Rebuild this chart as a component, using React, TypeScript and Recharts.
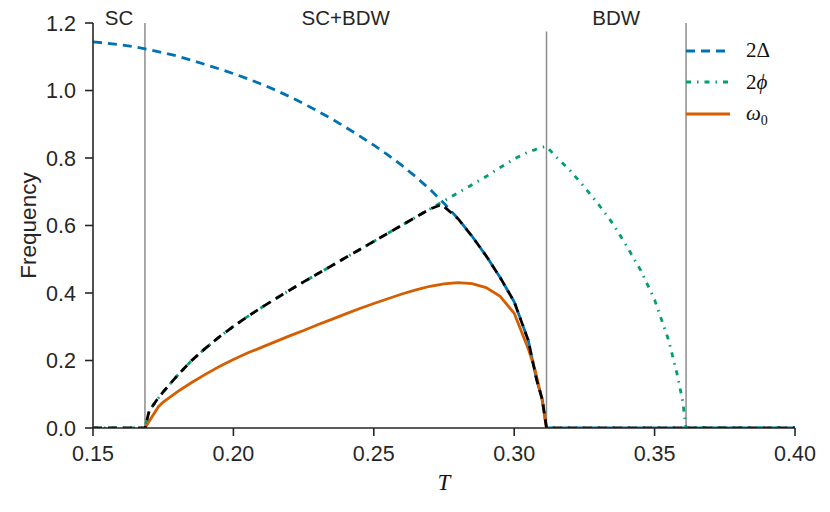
import React from "react"
import {
  LineChart,
  Line,
  XAxis,
  YAxis,
  ReferenceLine,
  ReferenceArea,
  Legend,
} from "recharts"

// temperatures at which the phase boundaries sit
const tScOnset = 0.1685
const tScEnd = 0.3115
const tBdwEnd = 0.3612

const xTicks = [0.15, 0.2, 0.25, 0.3, 0.35, 0.4]
const yTicks = [0, 0.2, 0.4, 0.6, 0.8, 1.0, 1.2]

// 2Δ (superconducting gap)
const deltaT = [
  0.15, 0.155, 0.16, 0.165, 0.17, 0.175, 0.18, 0.185, 0.19, 0.195, 0.2, 0.205, 0.21, 0.215, 0.22,
  0.225, 0.23, 0.235, 0.24, 0.245, 0.25, 0.255, 0.26, 0.265, 0.27, 0.275, 0.28, 0.285, 0.29, 0.295,
  0.3, 0.305, 0.308, 0.31, 0.3115, 0.4,
]
const deltaV = [
  1.144, 1.14, 1.135, 1.129, 1.121, 1.112, 1.102, 1.09, 1.077, 1.064, 1.05, 1.035, 1.019, 1.001, 0.982,
  0.961, 0.939, 0.916, 0.891, 0.865, 0.838, 0.809, 0.778, 0.744, 0.707, 0.666, 0.62, 0.568, 0.51, 0.446,
  0.374, 0.26, 0.142, 0.085, 0, 0,
]

// 2φ (bond density wave)
const phiT = [
  0.15, 0.1685, 0.17, 0.1727, 0.175, 0.18, 0.185, 0.19, 0.195, 0.2, 0.205, 0.21, 0.215, 0.22, 0.225,
  0.23, 0.235, 0.24, 0.245, 0.25, 0.255, 0.26, 0.265, 0.27, 0.275, 0.28, 0.285, 0.29, 0.295, 0.3,
  0.305, 0.31, 0.3115, 0.315, 0.32, 0.325, 0.33, 0.335, 0.34, 0.345, 0.35, 0.355, 0.358, 0.36, 0.3612,
  0.4,
]
const phiV = [
  0, 0, 0.05, 0.083, 0.107, 0.155, 0.199, 0.236, 0.27, 0.301, 0.33, 0.357, 0.383, 0.408, 0.433,
  0.457, 0.481, 0.505, 0.529, 0.553, 0.577, 0.601, 0.625, 0.649, 0.673, 0.697, 0.721, 0.745, 0.772, 0.797,
  0.818, 0.832, 0.834, 0.803, 0.762, 0.714, 0.663, 0.607, 0.54, 0.468, 0.38, 0.26, 0.16, 0.08, 0,
  0,
]

// ω0
const omegaT = [
  0.1685, 0.17, 0.1733, 0.175, 0.18, 0.185, 0.19, 0.195, 0.2, 0.205, 0.21, 0.215, 0.22, 0.225, 0.23,
  0.235, 0.24, 0.245, 0.25, 0.255, 0.26, 0.265, 0.27, 0.275, 0.28, 0.285, 0.29, 0.295, 0.3, 0.305,
  0.3075, 0.31, 0.3115,
]
const omegaV = [
  0, 0.02, 0.063, 0.077, 0.107, 0.134, 0.159, 0.182, 0.203, 0.222, 0.239, 0.256, 0.273, 0.289, 0.306,
  0.322, 0.338, 0.354, 0.369, 0.383, 0.397, 0.409, 0.42, 0.427, 0.431, 0.428, 0.416, 0.39, 0.34, 0.235,
  0.17, 0.08, 0,
]

// black dashed: the lower of the two gaps
const lowT = [
  0.15, 0.1685, 0.17, 0.1727, 0.175, 0.18, 0.185, 0.19, 0.195, 0.2, 0.205, 0.21, 0.215, 0.22, 0.225,
  0.23, 0.235, 0.24, 0.245, 0.25, 0.255, 0.26, 0.265, 0.27, 0.2742, 0.28, 0.285, 0.29, 0.295, 0.3,
  0.305, 0.308, 0.31, 0.3115, 0.4,
]
const lowV = [
  0, 0, 0.05, 0.083, 0.107, 0.155, 0.199, 0.236, 0.27, 0.301, 0.33, 0.357, 0.383, 0.408, 0.433,
  0.457, 0.481, 0.505, 0.529, 0.553, 0.577, 0.601, 0.625, 0.649, 0.662, 0.62, 0.568, 0.51, 0.446, 0.374,
  0.26, 0.142, 0.085, 0, 0,
]

const toPoints = (ts: number[], vs: number[]) => ts.map((t, i) => ({ t, v: vs[i] }))

const sans = "'Liberation Sans', Arial, Helvetica, sans-serif"
const serif = "'Liberation Serif', 'Times New Roman', serif"
const ink = "#262626"

const dashes: Record<string, string | undefined> = {
  "2Δ": "9 6",
  "2φ": "5 6 1.5 6",
  "ω0": undefined,
}

const legendLabel = (name: string) => {
  if (name === "2Δ") return <span>2Δ</span>
  if (name === "2φ") return <span>2<i>ϕ</i></span>
  return (
    <span>
      <i>ω</i>
      <span style={{ fontSize: 14, position: "relative", top: 5 }}>0</span>
    </span>
  )
}

const renderLegend = (props: any) => (
  <div>
    {(props.payload || [])
      .filter((entry: any) => entry.value in dashes)
      .map((entry: any) => (
        <div key={entry.value} style={{ display: "flex", alignItems: "center", height: 31.5 }}>
          <svg width={44} height={6}>
            <line
              x1={0}
              y1={3}
              x2={44}
              y2={3}
              stroke={entry.color}
              strokeWidth={2.8}
              strokeDasharray={dashes[entry.value]}
            />
          </svg>
          <span style={{ marginLeft: 16, fontFamily: serif, fontSize: 21, color: "#111" }}>
            {legendLabel(entry.value)}
          </span>
        </div>
      ))}
  </div>
)

const XTitle = (props: any) => {
  const { viewBox } = props
  return (
    <text
      x={viewBox.x + viewBox.width / 2}
      y={viewBox.y + 62}
      textAnchor="middle"
      fontFamily={serif}
      fontStyle="italic"
      fontSize={23}
      fill="#111"
    >
      T
    </text>
  )
}

const YTitle = (props: any) => {
  const { viewBox } = props
  const x = viewBox.x + viewBox.width - 65
  const y = viewBox.y + viewBox.height / 2
  return (
    <text
      x={x}
      y={y}
      transform={`rotate(-90 ${x} ${y})`}
      textAnchor="middle"
      dominantBaseline="central"
      fontFamily={sans}
      fontSize={22.5}
      fill={ink}
    >
      Frequency
    </text>
  )
}

const regionLabel = (value: string) => ({
  value,
  position: "top" as const,
  offset: -2,
  fill: ink,
  fontSize: 20.5,
  fontFamily: sans,
})

export default function App() {
  return (
    <div style={{ position: "absolute", left: 0, top: 0, width: 830, height: 512, background: "#fff" }}>
      <LineChart width={830} height={512} margin={{ top: 23, right: 35, bottom: 24, left: 23 }}>
        <XAxis
          dataKey="t"
          type="number"
          domain={[0.15, 0.4]}
          ticks={xTicks}
          allowDataOverflow
          tickFormatter={(v: number) => v.toFixed(2)}
          height={60}
          tickSize={8}
          tickMargin={10}
          axisLine={{ stroke: ink, strokeWidth: 1.6 }}
          tickLine={{ stroke: ink, strokeWidth: 1.6 }}
          tick={{ fill: ink, fontSize: 21.5, fontFamily: sans }}
          label={<XTitle />}
        />
        <YAxis
          type="number"
          domain={[0, 1.2]}
          ticks={yTicks}
          allowDataOverflow
          tickFormatter={(v: number) => v.toFixed(1)}
          width={70}
          tickSize={8}
          tickMargin={9}
          axisLine={{ stroke: ink, strokeWidth: 1.6 }}
          tickLine={{ stroke: ink, strokeWidth: 1.6 }}
          tick={{ fill: ink, fontSize: 21.5, fontFamily: sans }}
          label={<YTitle />}
        />
        <ReferenceArea x1={0.15} x2={tScOnset} fillOpacity={0} strokeOpacity={0} label={regionLabel("SC")} />
        <ReferenceArea x1={tScOnset} x2={tScEnd} fillOpacity={0} strokeOpacity={0} label={regionLabel("SC+BDW")} />
        <ReferenceArea x1={tScEnd} x2={tBdwEnd} fillOpacity={0} strokeOpacity={0} label={regionLabel("BDW")} />
        <ReferenceLine x={tScOnset} stroke="#8c8c8c" strokeWidth={1.5} />
        <ReferenceLine
          segment={[
            { x: tScEnd, y: 0 },
            { x: tScEnd, y: 1.175 },
          ]}
          stroke="#8c8c8c"
          strokeWidth={1.5}
        />
        <ReferenceLine x={tBdwEnd} stroke="#8c8c8c" strokeWidth={1.5} />
        <Line
          data={toPoints(deltaT, deltaV)}
          dataKey="v"
          name="2Δ"
          type="linear"
          stroke="#0072B2"
          strokeWidth={2.8}
          strokeDasharray="9 6"
          dot={false}
          isAnimationActive={false}
        />
        <Line
          data={toPoints(phiT, phiV)}
          dataKey="v"
          name="2φ"
          type="linear"
          stroke="#009E73"
          strokeWidth={2.8}
          strokeDasharray="5 6 1.5 6"
          dot={false}
          isAnimationActive={false}
        />
        <Line
          data={toPoints(omegaT, omegaV)}
          dataKey="v"
          name="ω0"
          type="linear"
          stroke="#D55E00"
          strokeWidth={2.8}
          dot={false}
          isAnimationActive={false}
        />
        <Line
          data={toPoints(lowT, lowV)}
          dataKey="v"
          name="low"
          type="linear"
          stroke="#000"
          strokeWidth={2.8}
          strokeDasharray="9 6"
          dot={false}
          legendType="none"
          isAnimationActive={false}
        />
        <Legend
          layout="vertical"
          align="center"
          verticalAlign="middle"
          wrapperStyle={{ left: 686, top: 35, width: 130 }}
          content={renderLegend}
        />
      </LineChart>
    </div>
  )
}
